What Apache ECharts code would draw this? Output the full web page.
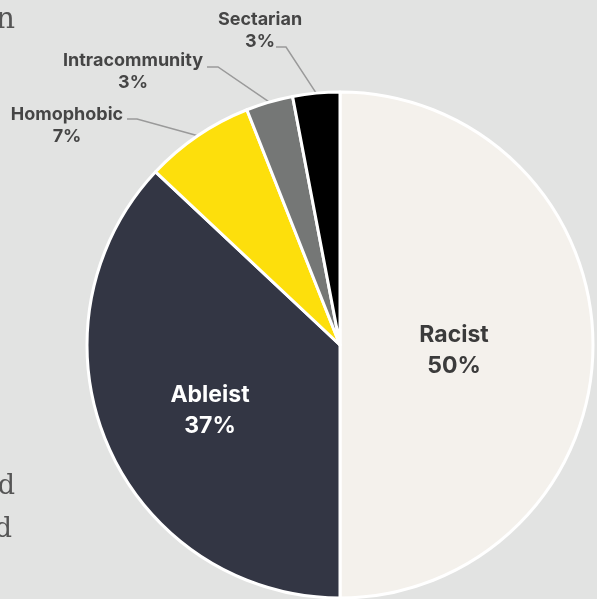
<!DOCTYPE html>
<html>
<head>
<meta charset="utf-8">
<script src="https://cdn.jsdelivr.net/npm/echarts@6/dist/echarts.min.js"></script>
<style>
  html, body { margin: 0; padding: 0; background: #e2e3e2; }
  #chart { width: 597px; height: 599px; }
</style>
</head>
<body>
<div id="chart"></div>
<script>
// Share of incidents by category (percent)
const categories = ['Racist', 'Ableist', 'Homophobic', 'Intracommunity', 'Sectarian'];
const shares = [50, 37, 7, 3, 3];

// Styling per slice
const sliceColors = ['#f4f1ec', '#333644', '#fddf0c', '#757776', '#000000'];
const insideSlices = [true, true, false, false, false];
const labelColors = ['#3b3b3b', '#ffffff', '#454545', '#454545', '#454545'];

// Label placement: centre of each label block and, for the outer ones, the elbow/end of the leader line
const labelCenters = [[454, 351], [210, 411], [67, 126], [133, 72], [260, 31]];
const leaderTails = [null, null, [[137, 119], [127, 119]], [[218, 67], [207, 67]], [[286, 47], [276, 47]]];

const chart = echarts.init(document.getElementById('chart'), null, { renderer: 'canvas' });

const data = categories.map((name, i) => ({
  name,
  value: shares[i],
  itemStyle: { color: sliceColors[i] },
  label: insideSlices[i]
    ? { position: 'inside', fontSize: 23, lineHeight: 31, color: labelColors[i] }
    : { position: 'outside', fontSize: 18, lineHeight: 22, color: labelColors[i] },
  labelLine: { show: !insideSlices[i] }
}));

chart.setOption({
  backgroundColor: '#e2e3e2',
  animation: false,
  graphic: [
    { type: 'text', x: 15, y: 5, style: { text: 'n', font: '30px "DejaVu Serif"', fill: '#555555', textAlign: 'right' } },
    { type: 'text', x: 15, y: 473, style: { text: 'd', font: '27px "DejaVu Serif"', fill: '#555555', textAlign: 'right' } },
    { type: 'text', x: 12, y: 516, style: { text: 'd', font: '27px "DejaVu Serif"', fill: '#555555', textAlign: 'right' } }
  ],
  series: [{
    type: 'pie',
    center: [340, 345],
    radius: [0, 253],
    startAngle: 90,
    clockwise: true,
    avoidLabelOverlap: false,
    itemStyle: { borderColor: '#ffffff', borderWidth: 3 },
    label: {
      show: true,
      fontFamily: 'Inter',
      fontWeight: 'bold',
      formatter: p => p.name + '\n' + p.value + '%'
    },
    labelLine: {
      show: true,
      lineStyle: { color: '#9a9a9a', width: 1.5 }
    },
    labelLayout: params => {
      const i = params.dataIndex;
      const out = {
        x: labelCenters[i][0],
        y: labelCenters[i][1],
        align: 'center',
        verticalAlign: 'middle'
      };
      if (leaderTails[i] && params.labelLinePoints) {
        out.labelLinePoints = [params.labelLinePoints[0], leaderTails[i][0], leaderTails[i][1]];
      }
      return out;
    },
    emphasis: { disabled: true },
    data
  }]
});
</script>
</body>
</html>
